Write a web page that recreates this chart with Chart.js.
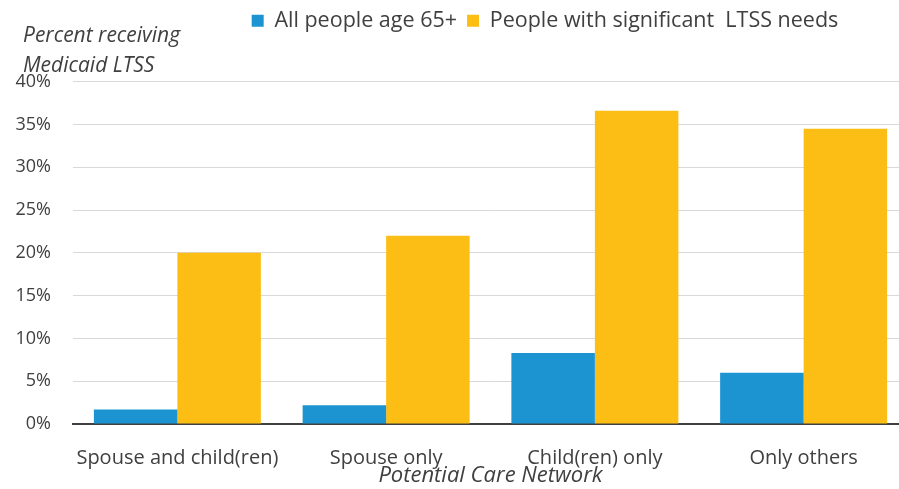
<!DOCTYPE html>
<html>
<head>
<meta charset="utf-8">
<script src="https://cdn.jsdelivr.net/npm/chart.js@4"></script>
<style>
  html, body { margin: 0; padding: 0; background: #fff; overflow: hidden; }
  #wrap { width: 912px; height: 489px; }
</style>
</head>
<body>
<div id="wrap"><canvas id="chart" width="912" height="489"></canvas></div>
<script>
// Potential care network categories
const categories = ['Spouse and child(ren)', 'Spouse only', 'Child(ren) only', 'Only others'];
// Percent receiving Medicaid LTSS
const allPeople65 = [1.7, 2.2, 8.3, 6.0];
const significantNeeds = [20.0, 22.0, 36.6, 34.5];
const seriesNames = ['All people age 65+', 'People with significant  LTSS needs'];
const yTickValues = [0, 5, 10, 15, 20, 25, 30, 35, 40];
const yTitleLines = ['Percent receiving', 'Medicaid LTSS'];
const xTitle = 'Potential Care Network';

const BLUE = '#1C94D2';
const GOLD = '#FCBD14';
const TEXT = '#404040';
const FONT = "'Open Sans', 'Noto Sans', sans-serif";

// Two-line italic y-axis caption above the plot, left side
const yCaption = {
  id: 'yCaption',
  afterDraw(chart) {
    const ctx = chart.ctx;
    const top = chart.chartArea.top;
    ctx.save();
    ctx.fillStyle = TEXT;
    ctx.font = 'italic 21px ' + FONT;
    ctx.textAlign = 'left';
    ctx.textBaseline = 'middle';
    ctx.fillText(yTitleLines[0], 23, top - 46);
    ctx.fillText(yTitleLines[1], 23, top - 16);
    ctx.restore();
  }
};

// Legend sits right of centre
const legendShift = {
  id: 'legendShift',
  afterLayout(chart) {
    if (chart.legend) {
      chart.legend.left += 91;
      chart.legend.right += 91;
    }
  }
};

new Chart(document.getElementById('chart'), {
  type: 'bar',
  data: {
    labels: categories,
    datasets: [
      { label: seriesNames[0], data: allPeople65, backgroundColor: BLUE, borderWidth: 0 },
      { label: seriesNames[1], data: significantNeeds, backgroundColor: GOLD, borderWidth: 0 }
    ]
  },
  plugins: [yCaption, legendShift],
  options: {
    responsive: false,
    animation: false,
    devicePixelRatio: 1,
    layout: { padding: { left: 0, right: 4, top: 0, bottom: 0 } },
    datasets: { bar: { categoryPercentage: 0.8, barPercentage: 1.0 } },
    plugins: {
      tooltip: { enabled: false },
      legend: {
        position: 'top',
        align: 'center',
        labels: {
          boxWidth: 12,
          boxHeight: 12,
          padding: 10,
          color: TEXT,
          font: { family: FONT, size: 21.5 }
        }
      },
      subtitle: {
        display: true,
        text: '',
        weight: 500,
        position: 'top',
        font: { size: 1 },
        padding: { top: 0, bottom: 39 }
      }
    },
    scales: {
      x: {
        grid: { display: false },
        border: { display: true, color: '#404040', width: 2 },
        ticks: {
          color: TEXT,
          padding: 14,
          font: { family: FONT, size: 20 }
        },
        title: {
          display: true,
          text: xTitle,
          color: TEXT,
          padding: { top: 0, bottom: 0 },
          font: { family: FONT, size: 22, style: 'italic' }
        },
        afterFit(scale) { scale.height = 65; }
      },
      y: {
        min: 0,
        max: 40,
        border: { display: false },
        grid: { color: '#d9d9d9', lineWidth: 1, drawTicks: false },
        afterBuildTicks(scale) {
          scale.ticks = yTickValues.map(v => ({ value: v }));
        },
        ticks: {
          color: TEXT,
          padding: 22,
          font: { family: FONT, size: 18 },
          callback: v => v + '%'
        },
        afterFit(scale) { scale.width = 73; }
      }
    }
  }
});
</script>
</body>
</html>
